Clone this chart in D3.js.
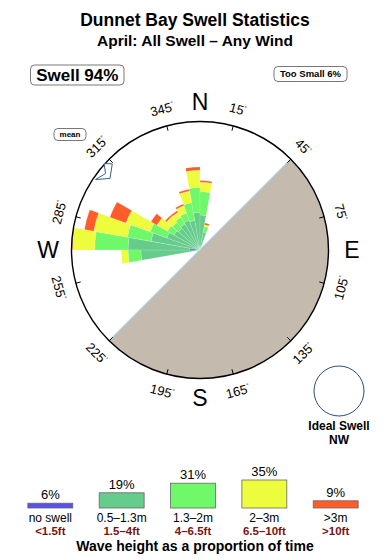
<!DOCTYPE html>
<html>
<head>
<meta charset="utf-8">
<script src="https://cdn.jsdelivr.net/npm/d3@7"></script>
<style>
  html, body { margin: 0; padding: 0; background: #fff; }
  svg { display: block; font-family: "Liberation Sans", Arial, sans-serif; }
</style>
</head>
<body>
<script>
/**
 * Secteurs de 10°, azimut de départ de chaque secteur
 */
const directions = [260, 270, 280, 290, 300, 310, 320, 330, 340, 350, 0, 10];

/**
 * Valeurs de la rose (% du temps) par classe de hauteur, une valeur par secteur
 */
const noSwell   = [0,   1.2, 0,   0,   0,   0,   0,   0,   0,   0,   0,   0];
const h05to13   = [6.9, 7.2, 5.8, 4.1, 3.5, 3.3, 3.5, 3.7, 3.5, 4.4, 4.1, 2.1];
const h13to2    = [1.5, 3.9, 2.8, 2.1, 0.9, 0.9, 0.9, 0.9, 2.1, 2.9, 2.7, 0.7];
const h2to3     = [0.8, 2.6, 4.0, 3.0, 1.4, 0.9, 0.7, 0.9, 1.4, 2.0, 1.1, 0.2];
const hOver3    = [0,   0.3, 1.1, 2.0, 0.8, 0.2, 0.2, 0.2, 0.2, 0.4, 0.2, 0.2];

/**
 * Légende : classes, équivalents en pieds et proportion totale
 */
const classNames = ["no swell", "0.5–1.3m", "1.3–2m", "2–3m", ">3m"];
const feetNames  = ["<1.5ft", "1.5–4ft", "4–6.5ft", "6.5–10ft", ">10ft"];
const classTotals = [6, 19, 31, 35, 9];
const classColors = ["#5a50ec", "#66cc8c", "#6ef86a", "#eefc3e", "#ff5c2c"];

const tickAngles = [15, 45, 75, 105, 135, 165, 195, 225, 255, 285, 315, 345];
const cardinals = [{label: "N", a: 0}, {label: "E", a: 90}, {label: "S", a: 180}, {label: "W", a: 270}];

const width = 390;
const height = 560;
const cx = 200;
const cy = 250;
const R = 128.5;

const svg = d3.create("svg")
  .attr("width", width)
  .attr("height", height)
  .attr("viewBox", `0 0 ${width} ${height}`);

/**
 * Titres
 */
svg.append("text")
  .attr("x", 195).attr("y", 26)
  .attr("text-anchor", "middle")
  .attr("font-size", 17.5).attr("font-weight", "bold")
  .text("Dunnet Bay Swell Statistics");

svg.append("text")
  .attr("x", 195).attr("y", 46)
  .attr("text-anchor", "middle")
  .attr("font-size", 15.5).attr("font-weight", "bold")
  .text("April: All Swell – Any Wind");

/**
 * Petites étiquettes encadrées
 */
const boxLabel = (x, y, w, h, txt, size) => {
  svg.append("rect")
    .attr("x", x).attr("y", y).attr("width", w).attr("height", h)
    .attr("rx", 4).attr("fill", "#fff").attr("stroke", "#555").attr("stroke-width", 0.8);
  svg.append("text")
    .attr("x", x + w / 2).attr("y", y + h / 2)
    .attr("dy", "0.36em")
    .attr("text-anchor", "middle")
    .attr("font-size", size).attr("font-weight", "bold")
    .text(txt);
};
boxLabel(30.5, 65, 93.5, 20, "Swell 94%", 17);
boxLabel(274, 66.5, 73, 15, "Too Small 6%", 9.5);

const g = svg.append("g").attr("transform", `translate(${cx},${cy})`);
const rad = d => d * Math.PI / 180;

/**
 * Terre (demi-disque au sud-est)
 */
g.append("path")
  .attr("d", d3.arc()({innerRadius: 0, outerRadius: R, startAngle: rad(45), endAngle: rad(225)}))
  .attr("fill", "#c5baae");
g.append("line")
  .attr("x1", R * Math.sin(rad(45))).attr("y1", -R * Math.cos(rad(45)))
  .attr("x2", R * Math.sin(rad(225))).attr("y2", -R * Math.cos(rad(225)))
  .attr("stroke", "#a8c8e2").attr("stroke-width", 1.2);

/**
 * Rose : empilement des classes pour chaque secteur
 */
const rows = directions.map((d, i) => ({
  dir: d,
  c0: noSwell[i], c1: h05to13[i], c2: h13to2[i], c3: h2to3[i], c4: hOver3[i]
}));
const keys = ["c0", "c1", "c2", "c3", "c4"];
const stacked = d3.stack().keys(keys)(rows);

const r = d3.scaleLinear().domain([0, 15]).range([0, R]).clamp(true);
const arc = d3.arc();

svg.append("defs").append("clipPath").attr("id", "disc")
  .append("circle").attr("r", R);

const rose = g.append("g").attr("clip-path", "url(#disc)");
stacked.forEach((layer, k) => {
  rose.selectAll()
    .data(layer.filter(d => d[1] - d[0] > 0))
    .join("path")
    .attr("d", d => arc({
      innerRadius: r(d[0]),
      outerRadius: r(d[1]),
      startAngle: rad(d.data.dir),
      endAngle: rad(d.data.dir + 10)
    }))
    .attr("fill", classColors[k])
    .attr("stroke", "rgba(255,255,255,0.3)")
    .attr("stroke-width", 0.5);
});

/**
 * Cercle, graduations et libellés
 */
g.append("circle")
  .attr("r", R).attr("fill", "none")
  .attr("stroke", "#000").attr("stroke-width", 1.4);

g.selectAll()
  .data(tickAngles)
  .join("line")
  .attr("x1", a => R * Math.sin(rad(a))).attr("y1", a => -R * Math.cos(rad(a)))
  .attr("x2", a => (R - 5) * Math.sin(rad(a))).attr("y2", a => -(R - 5) * Math.cos(rad(a)))
  .attr("stroke", "#000").attr("stroke-width", 1);

const tickText = g.selectAll()
  .data(tickAngles)
  .join("text")
  .attr("transform", a => {
    const rot = (a > 90 && a < 270) ? a - 180 : (a >= 270 ? a - 360 : a);
    return `translate(${146 * Math.sin(rad(a))},${-146 * Math.cos(rad(a))}) rotate(${rot})`;
  })
  .attr("text-anchor", "middle")
  .attr("dy", "0.36em")
  .attr("font-size", 13);
tickText.append("tspan").text(a => a);
tickText.append("tspan").attr("font-size", 6).attr("dy", "-0.9em").text("°");

g.selectAll()
  .data(cardinals)
  .join("text")
  .attr("x", d => (d.a % 180 === 0 ? 148 : 152) * Math.sin(rad(d.a)))
  .attr("y", d => -(d.a % 180 === 0 ? 148 : 152) * Math.cos(rad(d.a)))
  .attr("dy", "0.36em")
  .attr("text-anchor", "middle")
  .attr("font-size", 23)
  .text(d => d.label);

/**
 * Marqueur de direction moyenne
 */
const meanMarker = [[312, 129], [314.5, 123], [308.5, 115], [304, 126], [309, 121.5]];
g.append("path")
  .attr("d", d3.line()(meanMarker.map(([a, rr]) => [rr * Math.sin(rad(a)), -rr * Math.cos(rad(a))])) + "Z")
  .attr("fill", "#fff")
  .attr("stroke", "#3a6090").attr("stroke-width", 1);
boxLabel(54, 128.5, 32, 12, "mean", 8);

/**
 * Houle idéale
 */
svg.append("circle")
  .attr("cx", 339).attr("cy", 391).attr("r", 25)
  .attr("fill", "#fff").attr("stroke", "#2e4d7a").attr("stroke-width", 1);
svg.append("text")
  .attr("x", 339).attr("y", 430)
  .attr("text-anchor", "middle").attr("font-size", 12).attr("font-weight", "bold")
  .text("Ideal Swell");
svg.append("text")
  .attr("x", 339).attr("y", 444)
  .attr("text-anchor", "middle").attr("font-size", 12).attr("font-weight", "bold")
  .text("NW");

/**
 * Légende en barres
 */
const x = d3.scaleBand().domain(classNames).range([15, 371]).paddingInner(0.37).paddingOuter(0.18);
const y = d3.scaleLinear().domain([0, 35]).range([0, 28]);
const baseY = 508;

const legend = svg.append("g");
legend.selectAll()
  .data(classNames)
  .join("rect")
  .attr("x", d => x(d))
  .attr("width", x.bandwidth())
  .attr("y", (d, i) => baseY - y(classTotals[i]))
  .attr("height", (d, i) => y(classTotals[i]))
  .attr("fill", (d, i) => classColors[i])
  .attr("stroke", "#666").attr("stroke-width", 0.8);

legend.selectAll()
  .data(classNames)
  .join("text")
  .attr("x", d => x(d) + x.bandwidth() / 2)
  .attr("y", (d, i) => baseY - y(classTotals[i]) - 4)
  .attr("text-anchor", "middle").attr("font-size", 13)
  .text((d, i) => `${classTotals[i]}%`);

legend.selectAll()
  .data(classNames)
  .join("text")
  .attr("x", d => x(d) + x.bandwidth() / 2)
  .attr("y", 522)
  .attr("text-anchor", "middle").attr("font-size", 12)
  .text(d => d);

legend.selectAll()
  .data(feetNames)
  .join("text")
  .attr("x", (d, i) => x(classNames[i]) + x.bandwidth() / 2)
  .attr("y", 535)
  .attr("text-anchor", "middle").attr("font-size", 11.5).attr("font-weight", "bold")
  .attr("fill", "#7a1414")
  .text(d => d);

svg.append("text")
  .attr("x", 195).attr("y", 551)
  .attr("text-anchor", "middle").attr("font-size", 14).attr("font-weight", "bold")
  .text("Wave height as a proportion of time");

document.body.append(svg.node());
</script>
</body>
</html>
